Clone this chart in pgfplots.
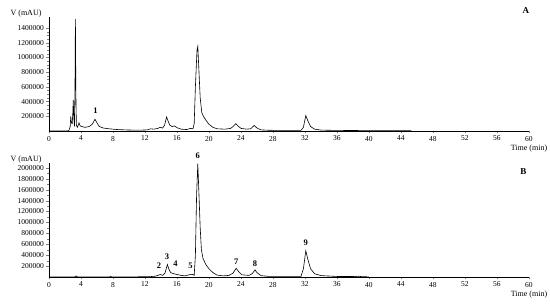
\documentclass[border=0pt]{standalone}
\usepackage{fontspec}
\setmainfont{Liberation Serif}
\usepackage{pgfplots}
\pgfplotsset{compat=1.18}

\tikzset{
  pk/.style={font=\bfseries\fontsize{8.5}{9}\selectfont, inner sep=0pt},
  panel/.style={font=\bfseries\fontsize{9}{10}\selectfont, inner sep=0pt},
}
\pgfplotsset{
  chrom/.style={
    scale only axis,
    width=480pt, height=114pt,
    xmin=0, xmax=60, ymin=0,
    axis lines=left,
    axis line style={-, line width=0.6pt},
    tick align=outside,
    major tick length=2.5pt, minor tick length=1.5pt,
    xtick={0,4,8,12,16,20,24,28,32,36,40,44,48,52,56,60}, minor x tick num=3,
    scaled y ticks=false,
    /pgf/number format/assume math mode=true,
    /pgf/number format/fixed,
    /pgf/number format/precision=0,
    /pgf/number format/1000 sep={},
    ticklabel style={font=\fontsize{7.5}{8}\selectfont},
    xticklabel style={yshift=1pt},
    yticklabel style={xshift=1pt},
    clip=false,
    xlabel={Time (min)},
    xlabel style={at={(rel axis cs:1,0)}, anchor=north, yshift=-10pt,
      font=\fontsize{8}{9}\selectfont},
    ylabel={V (mAU)},
    ylabel style={at={(rel axis cs:0,1)}, rotate=-90, anchor=east,
      xshift=-4pt, yshift=3pt, font=\fontsize{8}{9}\selectfont},
  },
  trace/.style={black, line width=0.6pt, mark=none},
}

\begin{document}
\begin{tikzpicture}
\path[use as bounding box] (0,0) rectangle (550pt,304pt);

% Panel A
\begin{axis}[chrom, at={(49pt,173pt)}, anchor=origin,
  ymax=1550000,
  ytick={200000,400000,600000,800000,1000000,1200000,1400000},
  minor y tick num=3]
\addplot[trace] coordinates {
(0,0) (2.3,0) (2.5,10000) (2.65,60000) (2.72,200000) (2.8,110000) (2.9,100000)
(2.98,250000) (3.03,420000) (3.1,200000) (3.18,60000) (3.25,600000) (3.3,1520000)
(3.36,500000) (3.42,80000) (3.55,50000) (3.75,110000) (3.9,70000) (4.1,60000)
(4.5,50000) (5.0,60000) (5.4,90000) (5.75,160000) (6.0,110000) (6.3,60000)
(6.8,40000) (7.5,30000) (8.5,20000) (9.5,15000) (10.5,12000) (11.5,12000)
(12.3,15000) (12.7,30000) (13.1,25000) (13.6,35000) (13.9,50000) (14.2,40000)
(14.45,80000) (14.7,190000) (14.9,130000) (15.1,80000) (15.4,60000) (15.7,70000)
(16.0,45000) (16.5,25000) (17.2,20000) (17.7,35000) (18.0,30000) (18.15,100000)
(18.3,600000) (18.5,1100000) (18.6,1150000) (18.75,800000) (18.9,450000)
(19.1,250000) (19.3,200000) (19.6,150000) (20.0,90000) (20.5,50000) (21.0,30000)
(22.0,25000) (22.7,35000) (23.0,60000) (23.35,100000) (23.6,70000) (24.0,35000)
(24.7,25000) (25.2,30000) (25.65,75000) (26.0,40000) (26.5,15000) (27.5,10000)
(29,8000) (31.5,8000) (31.8,50000) (32.1,210000) (32.35,140000) (32.7,60000)
(33.2,25000) (34,12000) (36,8000) (40,5000) (45.3,3000)
};
\node[pk] at (axis cs:5.8,270000) {1};
\node[panel] at (axis cs:59.6,1640000) {A};
\end{axis}

% Panel B
\begin{axis}[chrom, at={(49pt,27pt)}, anchor=origin,
  ymax=2090000,
  ytick={200000,400000,600000,800000,1000000,1200000,1400000,1600000,1800000,2000000},
  minor y tick num=1]
\addplot[trace] coordinates {
(0,0) (3.2,0) (3.4,20000) (3.55,0) (7.5,0) (7.7,10000) (7.9,0) (12.5,5000)
(13.3,15000) (13.9,45000) (14.2,30000) (14.5,70000) (14.8,230000) (15.0,140000)
(15.2,80000) (15.6,60000) (16.0,45000) (16.5,30000) (17.0,20000) (17.5,40000)
(17.9,50000) (18.15,30000) (18.3,400000) (18.45,1500000) (18.6,2080000)
(18.75,1500000) (18.9,900000) (19.05,500000) (19.25,340000) (19.6,230000)
(20.0,150000) (20.5,80000) (21.0,35000) (21.8,20000) (22.5,30000) (23.0,70000)
(23.4,160000) (23.7,100000) (24.1,40000) (25.0,30000) (25.4,60000) (25.75,130000)
(26.0,80000) (26.5,25000) (27.5,10000) (31.5,10000) (31.8,150000) (32.1,480000)
(32.4,300000) (32.7,150000) (33.2,60000) (34,25000) (36,10000) (38.3,8000)
(38.7,15000) (39.1,5000) (40,3000)
};
\node[pk] at (axis cs:13.75,200000) {2};
\node[pk] at (axis cs:14.75,370000) {3};
\node[pk] at (axis cs:15.8,240000) {4};
\node[pk] at (axis cs:17.7,200000) {5};
\node[pk] at (axis cs:18.6,2220000) {6};
\node[pk] at (axis cs:23.4,280000) {7};
\node[pk] at (axis cs:25.75,250000) {8};
\node[pk] at (axis cs:32.1,620000) {9};
\node[panel] at (axis cs:59.3,1930000) {B};
\end{axis}
\end{tikzpicture}
\end{document}
